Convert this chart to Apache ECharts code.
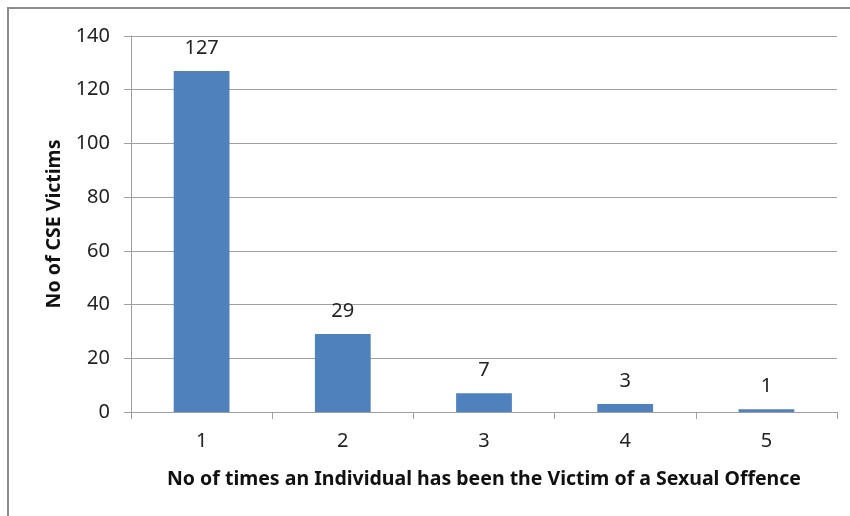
<!DOCTYPE html>
<html><head><meta charset="utf-8">
<script src="https://cdn.jsdelivr.net/npm/echarts@6/dist/echarts.min.js"></script>
<style>html,body{margin:0;padding:0;background:#fff}#c{width:850px;height:516px;position:relative}</style>
</head><body><div id="c"></div>
<script>
const categories = ['1','2','3','4','5'];
const victims = [127, 29, 7, 3, 1];
const yTicks = [0,20,40,60,80,100,120,140];
const xTitle = 'No of times an Individual has been the Victim of a Sexual Offence';
const yTitle = 'No of CSE Victims';

const chart = echarts.init(document.getElementById('c'), null, {renderer:'canvas'});
const font = 'Noto Sans';
chart.setOption({
  animation:false,
  graphic:[{type:'rect',shape:{x:8,y:8,width:900,height:600},style:{fill:'none',stroke:'#8c8c8c',lineWidth:2},silent:true}],
  grid:{left:131,right:13,top:36,bottom:104},
  xAxis:{type:'category',data:categories,
    axisLine:{lineStyle:{color:'#a0a0a0',width:1}},
    axisTick:{show:true,length:7,lineStyle:{color:'#a0a0a0'}},
    axisLabel:{color:'#222',fontSize:20,fontFamily:font,margin:19},
    name:xTitle,nameLocation:'middle',nameGap:57,
    nameTextStyle:{color:'#111',fontSize:19.5,fontWeight:'bold',fontFamily:font}},
  yAxis:{type:'value',min:0,max:140,interval:20,
    axisLine:{show:true,lineStyle:{color:'#a0a0a0'}},
    axisTick:{show:true,length:7,lineStyle:{color:'#a0a0a0'}},
    splitLine:{lineStyle:{color:'#a0a0a0',width:1}},
    axisLabel:{color:'#222',fontSize:20,fontFamily:font,margin:21},
    name:yTitle,nameLocation:'middle',nameGap:66,nameRotate:90,
    nameTextStyle:{color:'#111',fontSize:19.5,fontWeight:'bold',fontFamily:font}},
  series:[{type:'bar',data:victims,barWidth:'39.5%',
    itemStyle:{color:'#4f81bd'},
    label:{show:true,position:'top',distance:13,color:'#222',fontSize:20,fontFamily:font}}]
});
</script></body></html>
